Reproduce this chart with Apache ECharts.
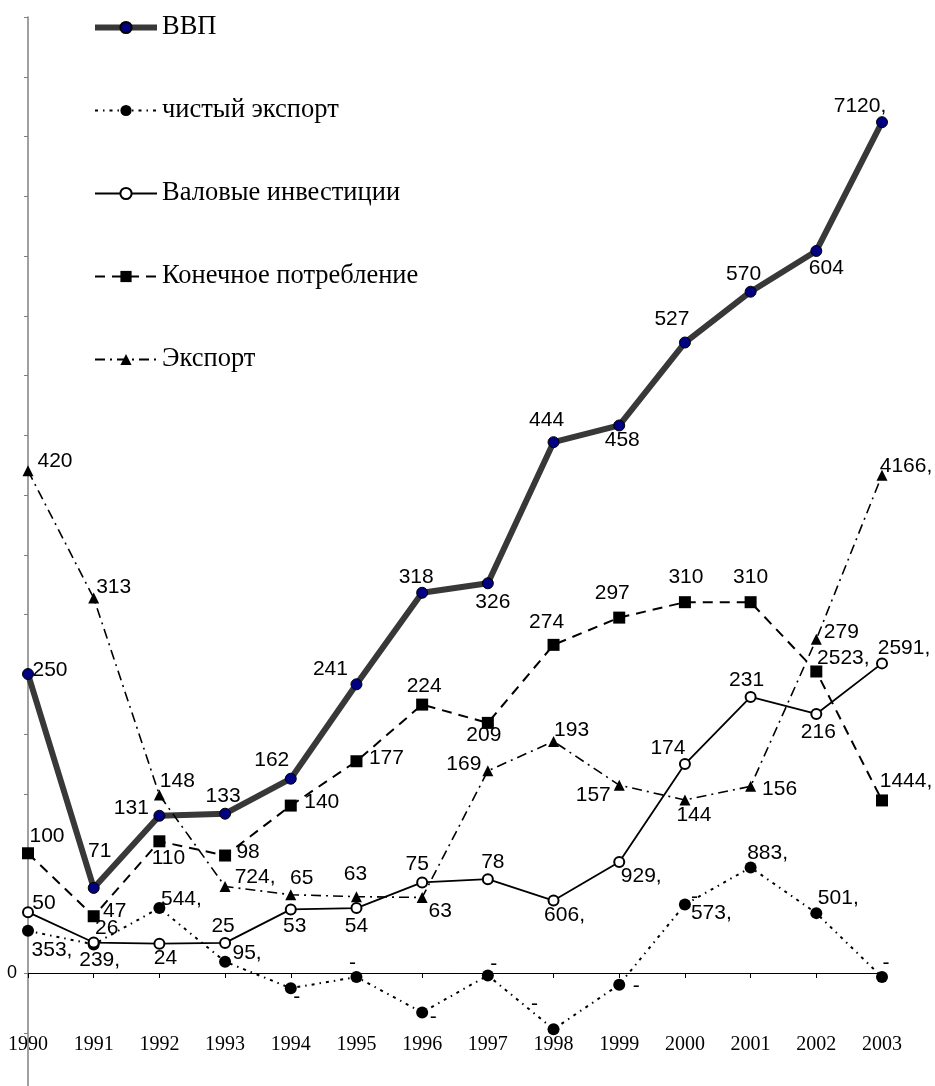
<!DOCTYPE html>
<html>
<head>
<meta charset="utf-8">
<script src="https://cdn.jsdelivr.net/npm/echarts@6/dist/echarts.min.js"></script>
<style>
html,body{margin:0;padding:0;background:#fff;}
#chart{width:935px;height:1086px;}
</style>
</head>
<body>
<div id="chart"></div>
<script>
// ---- data ----
const years = ['1990','1991','1992','1993','1994','1995','1996','1997','1998','1999','2000','2001','2002','2003'];
const seriesNames = ['ВВП','чистый экспорт','Валовые инвестиции','Конечное потребление','Экспорт'];

const gdp        = [250.2, 71.2, 131.6, 133.3, 162.6, 241.6, 318.2, 326.1, 444.2, 458.2, 527.6, 570.1, 604.2, 712.0];
const netExport  = [35.3, 23.9, 54.4, 9.5, -12.7, -3.4, -33, -2, -47, -9.8, 57.3, 88.3, 50.1, -3.4];
const investment = [50.9, 25.5, 24.5, 25.2, 53.2, 54.3, 75.8, 78.5, 60.6, 92.9, 174.8, 231, 216.8, 259.1];
const consumption= [100.2, 47.5, 110.2, 98.3, 140.1, 177.2, 224.6, 209.3, 274.6, 297.4, 310.3, 310.3, 252.3, 144.4];
const exportVals = [420.3, 313.8, 148.9, 72.4, 65.5, 63.9, 63.2, 169.2, 193.8, 157.2, 144.8, 156.2, 279.2, 416.6];

const gdpLabels = ['250','71','131','133','162','241','318','326','444','458','527','570','604','7120,'];
const netLabels = ['353,','239,','544,','95,','-','-','-','-','-','-','-\n573,','883,','501,','-'];
const invLabels = ['50','26','24','25','53','54','75','78','606,','929,','174','231','216','2591,'];
const conLabels = ['100','47','110','98','140','177','224','209','274','297','310','310','2523,','1444,'];
const expLabels = ['420','313','148','724,','65','63','63','169','193','157','144','156','279','4166,'];

// ---- label placement (style, pixel offsets from the marker) ----
const gdpOff = [[22,-4],[6,-37],[-28,-8],[-2,-18],[-19,-18],[-26,-15],[-6,-16],[5,19],[-7,-22],[3,15],[-13,-23],[-7,-18],[10,17],[-22,-16]];
const netOff = [[24,19],[6,16],[22,-9],[22,-8],[6,9],[-4,-14],[11,5],[6,-11],[-19,-25],[17,1],[6,1],[17,-14],[22,-15],[4,-14]];
const invOff = [[16,-9],[13,-14],[6,14],[-2,-17],[4,17],[0,18],[-5,-18],[5,-17],[11,15],[22,14],[-17,-16],[-4,-17],[2,18],[22,-15]];
const conOff = [[19,-17],[21,-5],[9,17],[23,-3],[31,-3],[30,-3],[2,-18],[-4,12],[-7,-23],[-7,-24],[1,-25],[0,-25],[27,-13],[24,-19]];
const expOff = [[27,-10],[20,-11],[18,-14],[30,-9],[11,-17],[-1,-22],[18,14],[-24,-7],[18,-11],[-26,10],[9,15],[29,3],[25,-7],[24,-9]];

function items(values, labels, offs) {
  return values.map(function (v, i) {
    const multi = labels[i].indexOf('\n') >= 0;
    const lab = { offset: offs[i] };
    if (multi) { lab.align = 'left'; lab.lineHeight = 16; }
    return { value: v, label: lab };
  });
}
function labelCfg(labels) {
  return {
    show: true,
    position: 'inside',
    align: 'center',
    verticalAlign: 'middle',
    color: '#000',
    fontFamily: 'Liberation Sans',
    fontSize: 21,
    formatter: function (p) { return labels[p.dataIndex]; }
  };
}

const chart = echarts.init(document.getElementById('chart'), null, {renderer: 'canvas'});
chart.setOption({
  animation: false,
  backgroundColor: '#fff',
  legend: {
    orient: 'vertical',
    left: 87,
    top: 9,
    itemWidth: 62,
    itemHeight: 14,
    itemGap: 56,
    selectedMode: false,
    data: [
      { name: seriesNames[0], lineStyle: { width: 6, color: '#383838' } },
      { name: seriesNames[1], lineStyle: { width: 2 } },
      { name: seriesNames[2], lineStyle: { width: 1.8 } },
      { name: seriesNames[3], lineStyle: { width: 2 } },
      { name: seriesNames[4], lineStyle: { width: 2 } }
    ],
    textStyle: { fontFamily: 'Liberation Serif', fontSize: 26.5, color: '#000' }
  },
  grid: { left: 28, right: 53, top: 17, bottom: -6.5, containLabel: false, outerBoundsMode: 'none' },
  xAxis: {
    type: 'category',
    data: years,
    boundaryGap: false,
    axisLine: { onZero: true, lineStyle: { color: '#000', width: 1 } },
    axisTick: { show: true, length: 5, lineStyle: { color: '#000' } },
    axisLabel: { margin: -58, fontFamily: 'Liberation Serif', fontSize: 20, color: '#000' },
    splitLine: { show: false }
  },
  yAxis: {
    type: 'value',
    min: -100,
    max: 800,
    interval: 50,
    splitLine: { show: false },
    axisLine: { show: true, lineStyle: { color: '#808080', width: 1.5 } },
    axisTick: { show: true, length: 4, lineStyle: { color: '#808080' } },
    axisLabel: {
      margin: 11, fontFamily: 'Liberation Sans', fontSize: 18, color: '#000',
      formatter: function (v) { return v === 0 ? '0' : ''; }
    }
  },
  series: [
    {
      name: seriesNames[0], type: 'line', data: items(gdp, gdpLabels, gdpOff),
      symbol: 'circle', symbolSize: 11,
      itemStyle: { color: '#000080', borderColor: '#000', borderWidth: 1 },
      lineStyle: { color: '#383838', width: 6 },
      label: labelCfg(gdpLabels), z: 3
    },
    {
      name: seriesNames[1], type: 'line', data: items(netExport, netLabels, netOff),
      symbol: 'circle', symbolSize: 12,
      itemStyle: { color: '#000' },
      lineStyle: { color: '#000', width: 2, type: [3, 5, 1.5, 5] },
      label: labelCfg(netLabels), z: 4
    },
    {
      name: seriesNames[2], type: 'line', data: items(investment, invLabels, invOff),
      symbol: 'emptyCircle', symbolSize: 10,
      itemStyle: { color: '#000', borderColor: '#000', borderWidth: 1.5 },
      lineStyle: { color: '#000', width: 1.8 },
      label: labelCfg(invLabels), z: 5
    },
    {
      name: seriesNames[3], type: 'line', data: items(consumption, conLabels, conOff),
      symbol: 'rect', symbolSize: 12,
      itemStyle: { color: '#000' },
      lineStyle: { color: '#000', width: 2, type: [10, 7] },
      label: labelCfg(conLabels), z: 6
    },
    {
      name: seriesNames[4], type: 'line', data: items(exportVals, expLabels, expOff),
      symbol: 'triangle', symbolSize: 11,
      itemStyle: { color: '#000' },
      lineStyle: { color: '#000', width: 1.6, type: [10, 5, 2, 5] },
      label: labelCfg(expLabels), z: 7
    }
  ]
});
</script>
</body>
</html>
